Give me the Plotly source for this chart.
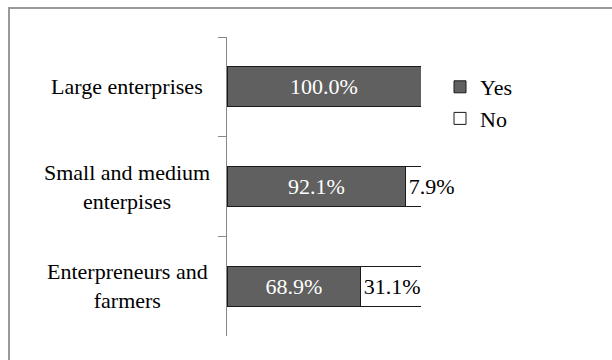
import plotly.graph_objects as go

categories = ["Large enterprises", "Small and medium<br>enterpises", "Enterpreneurs and<br>farmers"]
yes_vals = [100.0, 92.1, 68.9]
no_vals = [0.0, 7.9, 31.1]
yes_labels = ["100.0%", "92.1%", "68.9%"]
no_labels = ["", "7.9%", "31.1%"]

FONT = "Liberation Serif"
FS = 22
W, H = 612, 360
L, R, T, B = 227, 191, 37, 24
pw, ph = W - L - R, H - T - B

def px_to_paper_x(px):
    return (px - L) / pw

def px_to_paper_y(py):
    return (H - B - py) / ph

fig = go.Figure()
fig.add_trace(go.Bar(
    y=categories, x=yes_vals, orientation="h", name="Yes",
    marker=dict(color="#606060", line=dict(color="#1a1a1a", width=1)),
    text=yes_labels, textposition="inside", insidetextanchor="middle", textangle=0,
    textfont=dict(color="white", family=FONT, size=FS), cliponaxis=False,
))
fig.add_trace(go.Bar(
    y=categories, x=no_vals, orientation="h", name="No",
    marker=dict(color="white", line=dict(color="#1a1a1a", width=1)),
    text=no_labels, textposition="inside", insidetextanchor="start", textangle=0,
    textfont=dict(color="black", family=FONT, size=FS), cliponaxis=False,
))

# category labels, centred multi-line
for c in categories:
    fig.add_annotation(
        x=px_to_paper_x(127), xref="paper", xanchor="center",
        y=c, yref="y", text=c, showarrow=False, align="center",
        font=dict(family=FONT, size=FS, color="black"),
    )

# outer frame
fig.add_shape(type="rect", xref="paper", yref="paper",
              x0=px_to_paper_x(9), x1=px_to_paper_x(640),
              y0=px_to_paper_y(400), y1=px_to_paper_y(8),
              line=dict(color="#999999", width=2), fillcolor="rgba(0,0,0,0)", layer="below")

fig.update_layout(
    width=W, height=H,
    margin=dict(l=L, r=R, t=T, b=B, pad=0),
    barmode="stack", bargap=0.6,
    paper_bgcolor="white", plot_bgcolor="white",
    font=dict(family=FONT, size=FS, color="black"),
    uniformtext=dict(mode="show", minsize=FS),
    showlegend=True,
    legend=dict(x=px_to_paper_x(440), y=px_to_paper_y(66), xanchor="left", yanchor="top",
                traceorder="normal", font=dict(family=FONT, size=FS),
                bgcolor="rgba(0,0,0,0)", itemwidth=30, tracegroupgap=0),
    xaxis=dict(range=[0, 100], visible=False, fixedrange=True),
    yaxis=dict(categoryorder="array", categoryarray=categories, autorange="reversed",
               showticklabels=False, ticks="outside", tickson="boundaries", ticklen=8,
               tickcolor="#888888", showline=True, linecolor="#888888", linewidth=1,
               showgrid=False, zeroline=False),
)

fig.write_html("out.html")
